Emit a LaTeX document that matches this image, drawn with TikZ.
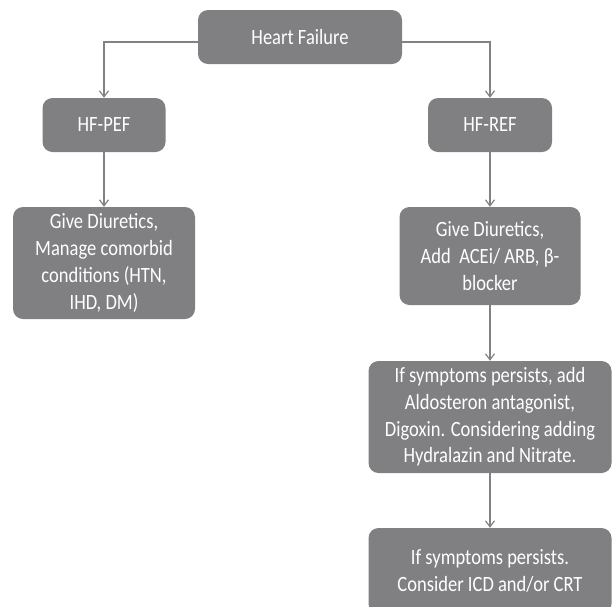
\documentclass[tikz,border=0pt]{standalone}
\usepackage{fontspec}
\setmainfont{Carlito}[FakeStretch=0.85]
\usepackage{tikz}
\usetikzlibrary{shapes.misc, arrows.meta, calc}
\definecolor{boxgrey}{RGB}{128,128,131}
\definecolor{linegrey}{RGB}{130,130,130}

\begin{document}
\begin{tikzpicture}[x=1pt, y=1pt, node distance=88pt, every node/.style={font=\fontsize{21.8}{26.7}\selectfont}]
%
% Heart Failure splits in two; right branch goes on down in three steps
%
\tikzstyle{stepbox} = [rectangle, rounded corners=10pt, text centered, fill=boxgrey, text=white, align=center, inner sep=2pt]
\tikzstyle{arrow} = [line width=1.3pt, draw=linegrey, -{Straight Barb[length=6pt, width=9pt, line width=1.2pt]}]
\useasboundingbox (0,0) rectangle (612,-606);
% Nodes
\node (heart) [stepbox, minimum width=204pt, minimum height=54pt] at (300,-37) {Heart Failure};
\node (hfPef) [stepbox, minimum width=123pt, minimum height=54pt, below of=heart, xshift=-196pt] {HF-PEF};
\node (hfRef) [stepbox, minimum width=124pt, minimum height=54pt, below of=heart, xshift=190pt] {HF-REF};
\node (givePef) [stepbox, minimum width=182pt, minimum height=112pt, below of=hfPef, yshift=-50pt] {Give Diuretics,\\ Manage comorbid\\ conditions (HTN,\\ IHD, DM)};
\node (giveRef) [stepbox, minimum width=181pt, minimum height=98pt, below of=hfRef, yshift=-43pt] {Give Diuretics,\\ Add~ ACEi/ ARB, β-\\ blocker};
\node (persist) [stepbox, minimum width=243pt, minimum height=112pt, below of=giveRef, yshift=-73pt] {If symptoms persists, add\\ Aldosteron antagonist,\\ Digoxin. Considering adding\\ Hydralazin and Nitrate.};
\node (device) [stepbox, minimum width=243pt, minimum height=86pt, below of=persist, yshift=-66pt] {If symptoms persists.\\ Consider ICD and/or CRT};

% Arrows
\draw [arrow] ([yshift=-5pt]heart.west) -| (hfPef.north);
\draw [arrow] ([yshift=-5pt]heart.east) -| (hfRef.north);
\draw [arrow] (hfPef) -- (givePef);
\draw [arrow] (hfRef) -- (giveRef);
\draw [arrow] (giveRef) -- (persist);
\draw [arrow] (persist) -- (device);

\end{tikzpicture}
\end{document}
